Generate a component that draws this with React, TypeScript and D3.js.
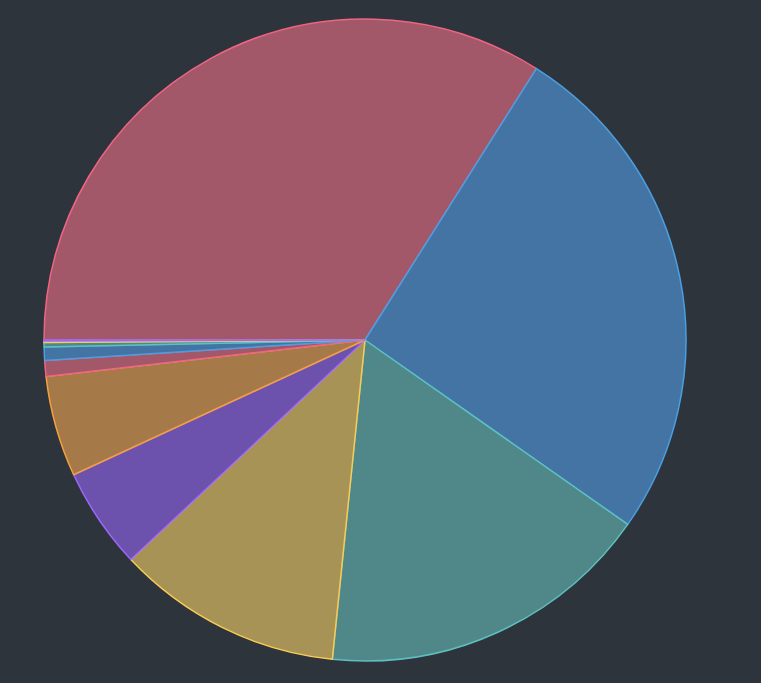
import React from "react";
import * as d3 from "d3";

const labels = ["A", "B", "C", "D", "E", "F", "G", "H", "I", "J", "K"];
const values = [34.0, 25.8, 16.9, 11.4, 5.1, 5.08, 0.8, 0.67, 0.22, 0.08, 0.05];
const fillColors = ["#a25868", "#4374a3", "#508789", "#a89356", "#6d52ad", "#a57a48", "#a25868", "#4374a3", "#508789", "#a89356", "#6d52ad"];
const borderColors = ["#f06584", "#4a9fe3", "#5ec0c0", "#f7cb55", "#9b68fb", "#f59f42", "#f06584", "#4a9fe3", "#5ec0c0", "#f7cb55", "#9b68fb"];

const W = 761;
const H = 683;

export default function App() {
  const cx = 365;
  const cy = 340;
  const r = 321;
  const pie = d3
    .pie<number>()
    .sort(null)
    .value((d) => d)
    .startAngle(-Math.PI / 2)
    .endAngle((3 * Math.PI) / 2);
  const arcs = pie(values);
  const arc = d3.arc<d3.PieArcDatum<number>>().innerRadius(0).outerRadius(r);
  return (
    <svg
      width={W}
      height={H}
      style={{ position: "fixed", left: 0, top: 0, background: "#2e343b", display: "block" }}
    >
      <rect x={0} y={0} width={W} height={H} fill="#2e343b" />
      <g transform={`translate(${cx},${cy})`}>
        {arcs.map((a, i) => (
          <path
            key={labels[i]}
            d={arc(a) || ""}
            fill={fillColors[i]}
            stroke={borderColors[i]}
            strokeWidth={1.5}
            strokeLinejoin="round"
          />
        ))}
      </g>
    </svg>
  );
}
